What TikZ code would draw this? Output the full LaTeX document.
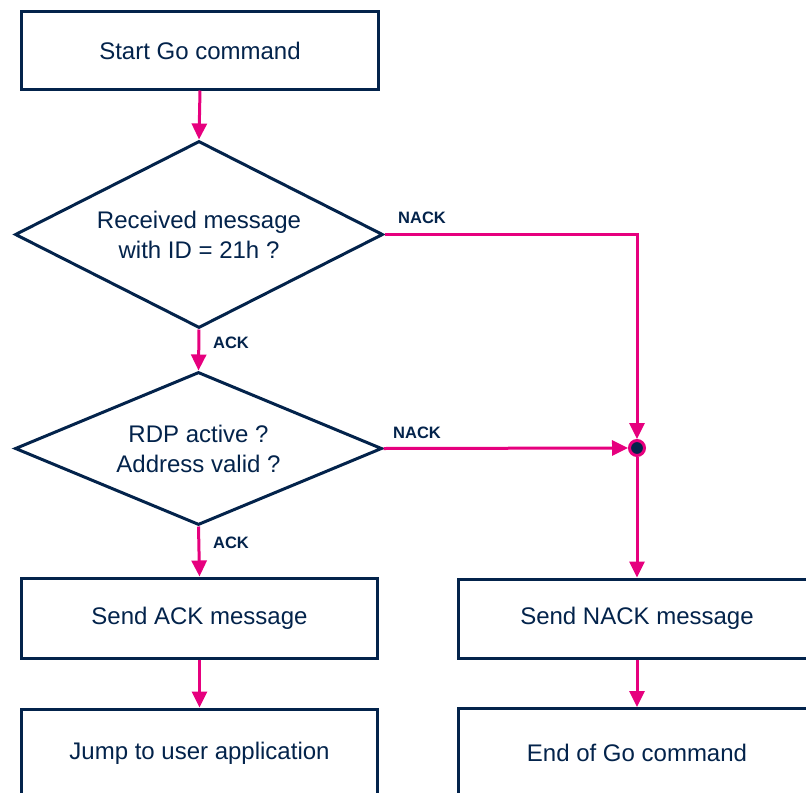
\documentclass[tikz,border=0pt]{standalone}
\usepackage{fontspec}
\setmainfont{Liberation Sans}
\usetikzlibrary{shapes.geometric,arrows.meta}
\definecolor{navy}{HTML}{03234B}
\definecolor{magenta}{HTML}{E6007E}
\tikzset{
  box/.style={draw=navy, line width=3bp, fill=white, rectangle, inner sep=0pt,
    text=navy, font=\fontsize{24bp}{30bp}\selectfont},
  decision/.style={draw=navy, line width=3bp, fill=white, diamond, aspect=2, inner sep=0pt,
    text=navy, align=center, font=\fontsize{24bp}{30bp}\selectfont},
  flow/.style={draw=magenta, line width=3bp, -{Triangle[length=16bp,width=15bp]}},
  lbl/.style={text=navy, font=\fontsize{16.5bp}{18bp}\selectfont\bfseries, inner sep=0pt},
  junction/.style={circle, draw=magenta, line width=3bp, fill=navy, minimum size=15bp, inner sep=0pt}
}
\begin{document}
\begin{tikzpicture}[x=1bp,y=-1bp]
\useasboundingbox (0,0) rectangle (806,793);
\clip (0,0) rectangle (806,793);
\node[box, minimum width=357bp, minimum height=77bp] (start) at (200,50.5) {Start Go command};
\node[decision, minimum width=368bp, minimum height=187bp] (d1) at (199,234.5) {Received message\\with ID = 21h ?};
\node[decision, minimum width=367bp, minimum height=153bp] (d2) at (198.5,448.5) {RDP active ?\\Address valid ?};
\node[junction] (dot) at (637,448) {};
\node[box, minimum width=355bp, minimum height=80bp] (ack) at (199.5,618) {Send ACK message};
\node[box, minimum width=358bp, minimum height=79bp] (nack) at (637,618.5) {Send NACK message};
\node[box, minimum width=355bp, minimum height=88bp] (jump) at (199.5,753) {Jump to user application};
\node[box, minimum width=358bp, minimum height=88bp] (endg) at (637,752.5) {End of Go command};
\node[lbl] (n1) at (422,218) {NACK};
\node[lbl] (n2) at (417,433) {NACK};
\node[lbl] (a1) at (231,343) {ACK};
\node[lbl] (a2) at (231,543) {ACK};
\draw[flow] (start.south) -- (d1.north);
\draw[flow] (d1.south) -- (d2.north);
\draw[flow] (d2.south) -- (ack.north);
\draw[flow] (ack.south) -- (jump.north);
\draw[flow] (d1.east) -| (dot.north);
\draw[flow] (d2.east) -- (dot.west);
\draw[flow] (dot.south) -- (nack.north);
\draw[flow] (nack.south) -- (endg.north);
\end{tikzpicture}
\end{document}
